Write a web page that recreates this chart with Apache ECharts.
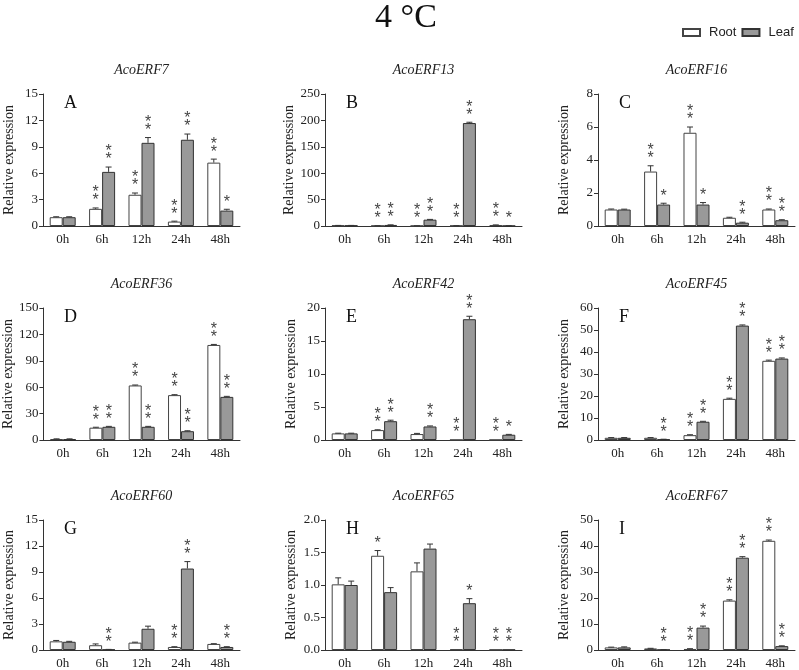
<!DOCTYPE html>
<html>
<head>
<meta charset="utf-8">
<script src="https://cdn.jsdelivr.net/npm/echarts@6/dist/echarts.min.js"></script>
<style>html,body{margin:0;padding:0;background:#fff}#c{width:799px;height:670px}</style>
</head>
<body>
<div id="c"></div>
<script>
const categories = ['0h', '6h', '12h', '24h', '48h'];
const genes = ['AcoERF7', 'AcoERF13', 'AcoERF16', 'AcoERF36', 'AcoERF42', 'AcoERF45', 'AcoERF60', 'AcoERF65', 'AcoERF67'];
const letters = ['A', 'B', 'C', 'D', 'E', 'F', 'G', 'H', 'I'];
const yMax = [15, 250, 8, 150, 20, 60, 15, 2, 50];
const yStep = [3, 50, 2, 30, 5, 10, 3, 0.5, 10];

const rootMean = [
  [1.0, 1.95, 3.55, 0.5, 7.2],
  [1.0, 0.4, 0.3, 0.5, 1.8],
  [1.0, 3.3, 5.65, 0.5, 1.0],
  [1.0, 14, 62, 51, 108],
  [1.0, 1.5, 0.9, 0.02, 0.02],
  [1.0, 1.0, 2.2, 18.7, 36],
  [1.0, 0.55, 0.85, 0.35, 0.7],
  [1.01, 1.45, 1.21, 0.01, 0.005],
  [1.0, 0.6, 0.4, 19, 42]
];
const rootErr = [
  [0.05, 0.1, 0.2, 0.05, 0.4],
  [0.1, 0.1, 0.1, 0.1, 0.3],
  [0.03, 0.35, 0.35, 0.03, 0.03],
  [0.3, 0.5, 0.5, 0.5, 0.6],
  [0.03, 0.05, 0.1, 0, 0],
  [0.1, 0.1, 0.2, 0.3, 0.3],
  [0.1, 0.15, 0.05, 0.03, 0.03],
  [0.1, 0.08, 0.13, 0, 0],
  [0.1, 0.05, 0.1, 0.3, 0.3]
];
const rootSig = [
  ['', '**', '**', '**', '**'],
  ['', '**', '**', '**', '**'],
  ['', '**', '**', '', '**'],
  ['', '**', '**', '**', '**'],
  ['', '**', '', '**', '**'],
  ['', '', '**', '**', '**'],
  ['', '', '', '**', ''],
  ['', '*', '', '**', '**'],
  ['', '', '**', '**', '**']
];
const leafMean = [
  [1.0, 6.15, 9.45, 9.8, 1.75],
  [1.0, 2.0, 12, 195, 0.3],
  [1.0, 1.3, 1.3, 0.2, 0.35],
  [1.0, 15, 15, 10, 49],
  [1.0, 2.85, 2.05, 18.3, 0.8],
  [1.0, 0.3, 8.3, 52, 37],
  [0.95, 0.05, 2.45, 9.4, 0.35],
  [1.0, 0.89, 1.56, 0.72, 0.005],
  [1.0, 0.1, 8.6, 35.5, 1.5]
];
const leafErr = [
  [0.05, 0.55, 0.6, 0.65, 0.15],
  [0.1, 0.2, 0.5, 1.5, 0.1],
  [0.02, 0.08, 0.12, 0.03, 0.03],
  [0.3, 0.5, 0.5, 0.5, 0.6],
  [0.03, 0.15, 0.08, 0.45, 0.05],
  [0.1, 0.05, 0.2, 0.3, 0.3],
  [0.05, 0.02, 0.3, 0.8, 0.03],
  [0.06, 0.07, 0.07, 0.07, 0],
  [0.2, 0.02, 0.6, 0.4, 0.1]
];
const leafSig = [
  ['', '**', '**', '**', '*'],
  ['', '**', '**', '**', '*'],
  ['', '*', '*', '**', '**'],
  ['', '**', '**', '**', '**'],
  ['', '**', '**', '**', '*'],
  ['', '**', '**', '**', '**'],
  ['', '**', '', '**', '**'],
  ['', '', '', '*', '**'],
  ['', '**', '**', '**', '**']
];

const colLeft = [43, 325, 598];
const rowTop = [94, 308, 520];
const gw = 197, gh = 132;
const serif = '"Liberation Serif", "Times New Roman", serif';
const sans = '"Liberation Sans", Arial, sans-serif';
const OFF = 0.165;

const grids = [], xAxes = [], yAxes = [], series = [];
const titles = [{
  text: '4 °C', left: 406, top: 1, textAlign: 'center', padding: 0,
  textStyle: { fontFamily: serif, fontSize: 34, fontWeight: 'normal', color: '#111' }
}];

for (let p = 0; p < 9; p++) {
  const L = colLeft[p % 3], T = rowTop[Math.floor(p / 3)];
  grids.push({ left: L, top: T, width: gw, height: gh });
  xAxes.push({
    type: 'category', gridIndex: p, data: categories,
    axisLine: { lineStyle: { color: '#333', width: 1 } },
    axisTick: { show: false },
    axisLabel: { color: '#222', fontFamily: serif, fontSize: 13, margin: 7 }
  });
  yAxes.push({
    type: 'value', gridIndex: p, min: 0, max: yMax[p], interval: yStep[p],
    name: 'Relative expression', nameLocation: 'middle', nameGap: 27,
    nameTextStyle: { fontFamily: serif, fontSize: 14, color: '#222' },
    axisLine: { show: true, lineStyle: { color: '#333', width: 1 } },
    axisTick: { show: true, length: 4, lineStyle: { color: '#333' } },
    splitLine: { show: false },
    axisLabel: {
      color: '#222', fontFamily: serif, fontSize: 13, margin: 5,
      formatter: p === 7 ? (v) => v.toFixed(1) : null
    }
  });
  titles.push({
    text: genes[p], left: L + gw / 2, top: T - 31, textAlign: 'center', padding: 0,
    textStyle: { fontFamily: serif, fontSize: 14, fontStyle: 'italic', fontWeight: 'normal', color: '#222' }
  });
  titles.push({
    text: letters[p], left: L + 21, top: T, padding: 0,
    textStyle: { fontFamily: serif, fontSize: 18, fontWeight: 'normal', color: '#111' }
  });
  series.push({
    name: 'Root', type: 'bar', xAxisIndex: p, yAxisIndex: p,
    data: rootMean[p], barGap: '0%', barCategoryGap: '34%',
    itemStyle: { color: '#ffffff', borderColor: '#444', borderWidth: 1 },
    emphasis: { disabled: true }, animation: false
  });
  series.push({
    name: 'Leaf', type: 'bar', xAxisIndex: p, yAxisIndex: p,
    data: leafMean[p], barGap: '0%', barCategoryGap: '34%',
    itemStyle: { color: '#999999', borderColor: '#333', borderWidth: 1 },
    emphasis: { disabled: true }, animation: false
  });
  const errData = [];
  for (let i = 0; i < 5; i++) {
    errData.push([i, rootMean[p][i], rootErr[p][i], 0]);
    errData.push([i, leafMean[p][i], leafErr[p][i], 1]);
  }
  const sigList = [];
  for (let i = 0; i < 5; i++) { sigList.push(rootSig[p][i]); sigList.push(leafSig[p][i]); }
  series.push({
    type: 'custom', name: 'err' + p, xAxisIndex: p, yAxisIndex: p, clip: false,
    data: errData, encode: { x: 0, y: 1 }, animation: false, silent: true, z: 5,
    renderItem: function (params, api) {
      const cat = api.value(0), val = api.value(1), err = api.value(2), which = api.value(3);
      const band = api.size([1, 0])[0];
      const base = api.coord([cat, val]);
      const top = api.coord([cat, val + err]);
      const x = base[0] + (which === 0 ? -1 : 1) * band * OFF;
      const children = [];
      if (err > 0) {
        children.push({ type: 'line', shape: { x1: x, y1: base[1], x2: x, y2: top[1] }, style: { stroke: '#333', lineWidth: 1 } });
        children.push({ type: 'line', shape: { x1: x - 3, y1: top[1], x2: x + 3, y2: top[1] }, style: { stroke: '#333', lineWidth: 1 } });
      }
      const s = sigList[params.dataIndex];
      for (let k = 0; k < s.length; k++) {
        children.push({
          type: 'text',
          style: { text: '*', x: x, y: top[1] + 1 - k * 8, textAlign: 'center', textVerticalAlign: 'bottom',
            fill: '#444', font: '16px ' + sans }
        });
      }
      return { type: 'group', children: children };
    }
  });
}

const chart = echarts.init(document.getElementById('c'), null, { renderer: 'canvas' });
chart.setOption({
  animation: false,
  title: titles,
  legend: {
    data: ['Root', 'Leaf'], left: 682, top: 26, padding: 0, icon: 'rect', itemWidth: 17, itemHeight: 7, itemGap: 5,
    textStyle: { fontFamily: sans, fontSize: 13, color: '#222', padding: [0, 0, 0, 4] }, selectedMode: false
  },
  grid: grids, xAxis: xAxes, yAxis: yAxes, series: series
});
</script>
</body>
</html>
